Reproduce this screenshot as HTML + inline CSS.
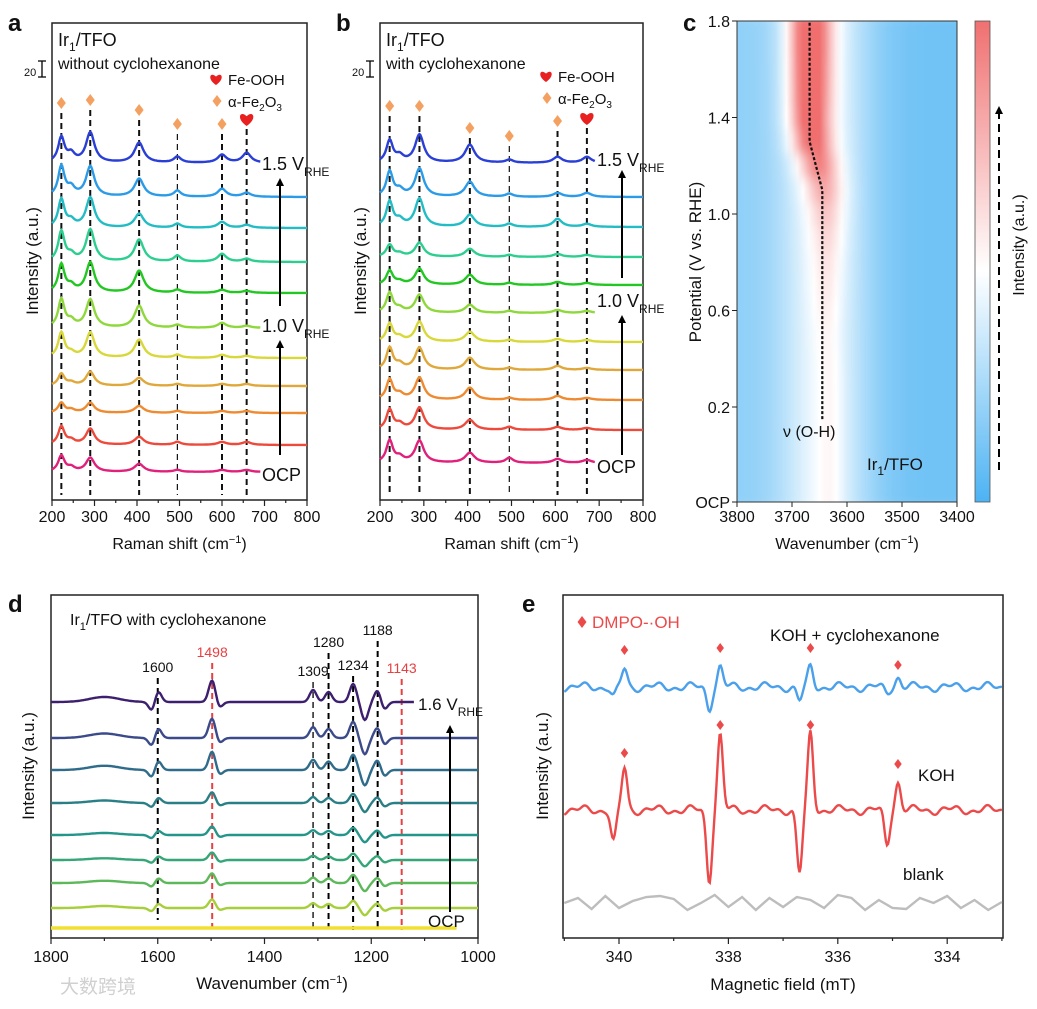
<!DOCTYPE html>
<html><head><meta charset="utf-8"><style>
body{margin:0;background:#fff}
svg{display:block;font-family:"Liberation Sans","Noto Sans CJK SC",sans-serif}
</style></head><body>
<svg id="fig" width="1037" height="1009" viewBox="0 0 1037 1009" xmlns="http://www.w3.org/2000/svg">
<defs id="defs">
<filter id="vblur" x="0" y="0" width="1" height="1"><feGaussianBlur stdDeviation="0 7" edgeMode="duplicate"/></filter>
<clipPath id="hclip"><rect x="737" y="21" width="220" height="481"/></clipPath>
</defs>
<g id="root"></g>
</svg>
<script>
// ---------- DATA ----------
const ramanPeaksA = [222, 245, 290, 405, 495, 600, 658];
const ramanPeaksB = [222, 245, 290, 405, 495, 605, 672];
const ramanWidths = [9, 10, 12, 13, 10, 12, 12];
const ramanColors = ['#2a3fd6','#2b9be8','#22bcc4','#2ccf8f','#22c722','#8fd83c','#d8d83a','#e0a83a','#ee8a30','#ee4a3c','#e0207a'];
const ampA = [[25,8,30,20,6,8,10],[30,8,30,18,6,8,4],[28,6,30,14,4,6,3],[30,6,32,22,6,8,3],[28,6,30,22,3,3,2],[28,6,28,22,3,5,2],[25,4,25,18,3,3,2],[12,3,14,8,2,2,2],[10,3,10,7,2,2,2],[18,4,16,8,3,3,3],[16,4,14,8,2,2,2]];
const baseA = [163,197,228,262,293,328,358,386,413,445,472];
const endA = [690,800,800,800,800,690,800,800,800,800,690];
const ampB = [[22,6,28,18,3,6,6],[25,6,28,15,3,4,4],[25,6,28,12,3,8,3],[12,3,14,8,2,3,2],[14,3,16,10,2,3,2],[20,4,18,8,2,3,2],[18,4,20,10,2,3,2],[22,5,22,12,2,4,2],[20,5,22,12,2,4,2],[20,5,22,10,3,3,2],[22,5,22,10,5,4,3]];
const baseB = [163,197,227,257,285,313,342,370,400,430,463];
const endB = [690,800,800,800,800,690,800,800,800,800,690];

// panel c
const potentials = [-0.2,-0.1,0,0.1,0.2,0.3,0.4,0.5,0.6,0.7,0.8,0.9,1.0,1.1,1.2,1.3,1.4,1.5,1.6,1.7,1.8];
const ohCenter = [3630,3630,3630,3630,3630,3630,3632,3634,3636,3636,3636,3636,3638,3642,3652,3664,3668,3668,3668,3668,3668];
const ohIntensity = [0,0,0,0,0,0,0,0,0.02,0.04,0.06,0.1,0.16,0.26,0.4,0.55,0.62,0.66,0.68,0.7,0.7];
const ohLineP = [0.15,1.1,1.3,1.8];
const ohLineW = [3645,3645,3668,3668];

// panel d
const ftirPeaks = [1700,1610,1600,1498,1485,1309,1280,1234,1212,1188,1176];
const ftirShape = [5,-10,12,22,-6,12,10,18,-18,12,-8];
const ftirColors = ['#3c1f6e','#3a4a8a','#2f6b8a','#2a7f87','#24958a','#35a678','#5cb85a','#a6cf3a','#f0e030'];
const ftirBase = [702,738,770,803,835,860,883,908,928];
const ftirScale = [1,0.9,0.85,0.5,0.4,0.35,0.45,0.4,0];
const ftirEnd = [1120,1000,1000,1000,1000,1000,1000,1000,1040];
const ftirLines = [1600,1498,1309,1280,1234,1188,1143];
const ftirLineColors = ['#000','#e84040','#000','#000','#000','#000','#e84040'];

// panel e
const eprFields = [339.9,338.15,336.5,334.9];
const eprUpKOH = [42,75,77,28];
const eprDownKOH = [32,70,63,35];
const eprUpCyc = [18,20,20,10];
const eprDownCyc = [10,21,14,6];
const eprBase = [687,810];
const blankField = [341,340.75,340.5,340.25,340,339.75,339.5,339.25,339,338.75,338.5,338.25,338,337.75,337.5,337.25,337,336.75,336.5,336.25,336,335.75,335.5,335.25,335,334.75,334.5,334.25,334,333.75,333.5,333.25,333];
const blankVal = [0,5,-6,7,-5,2,6,7,4,-7,0,8,-4,6,-7,5,-4,6,3,-5,8,5,-7,3,-5,-6,5,0,7,-5,3,-7,1];

// ---------- HELPERS ----------
const NS='http://www.w3.org/2000/svg';
const root=document.getElementById('root');
const defs=document.getElementById('defs');
function el(tag,attrs,parent){const e=document.createElementNS(NS,tag);for(const k in attrs)e.setAttribute(k,attrs[k]);(parent||root).appendChild(e);return e;}
function txt(x,y,s,size,opts,parent){opts=opts||{};const t=el('text',{x:x,y:y,'font-size':size,fill:opts.fill||'#111','text-anchor':opts.anchor||'start','font-weight':opts.bold?'bold':'normal'},parent);if(opts.rot)t.setAttribute('transform','rotate(-90 '+x+' '+y+')');t.innerHTML=s;return t;}
function pathD(pts){return pts.map((p,i)=>(i?'L':'M')+p[0].toFixed(1)+' '+p[1].toFixed(1)).join(' ');}
function lor(x,x0,w){return 1/(1+((x-x0)/w)**2);}
function gau(x,x0,w){return Math.exp(-(((x-x0)/w)**2));}
function diamond(x,y,s,c,parent){return el('path',{d:`M${x} ${y-s} L${x+s*0.75} ${y} L${x} ${y+s} L${x-s*0.75} ${y} Z`,fill:c},parent);}
function heart(x,y,s,c,parent){return el('path',{d:`M${x} ${y+s} C${x-s*1.6} ${y-s*0.1} ${x-s*0.9} ${y-s*1.3} ${x} ${y-s*0.4} C${x+s*0.9} ${y-s*1.3} ${x+s*1.6} ${y-s*0.1} ${x} ${y+s} Z`,fill:c},parent);}
function arrow(x,y1,y2,parent,dash){const g=el('g',{},parent);el('line',{x1:x,y1:y1,x2:x,y2:y2+6,stroke:'#000','stroke-width':2,'stroke-dasharray':dash||''},g);el('path',{d:`M${x-4} ${y2+8} L${x} ${y2} L${x+4} ${y2+8} Z`,fill:'#000'},g);return g;}

// ---------- PANEL a/b ----------
function raman(px0,px1,letter,lab2,peaks,amps,bases,ends,opts){
  const g=el('g',{});
  
  
  const top=23,bot=500;
  const X=v=>px0+(v-200)/600*(px1-px0);
  const Y=(b,a)=>b-a;
  el('rect',{x:px0,y:top,width:px1-px0,height:bot-top,fill:'none',stroke:'#222','stroke-width':1.5},g);
  for(let v=200;v<=800;v+=50){const major=v%100===0;el('line',{x1:X(v),y1:bot,x2:X(v),y2:bot+(major?6:3),stroke:'#222','stroke-width':1.2},g);if(major){const t=txt(X(v),522,v,16,{anchor:'middle'},g);}}
  const xt=txt((px0+px1)/2,549,'Raman shift (cm<tspan dy="-6" font-size="11">−1</tspan><tspan dy="6">)</tspan>',16,{anchor:'middle'},g);
  
  const yt=txt(px0-14,261,'Intensity (a.u.)',17,{anchor:'middle',rot:1},g);
  
  const lt=txt(px0-44,31,letter,24,{bold:1},g);
  txt(px0+6,46,'Ir<tspan dy="5" font-size="12">1</tspan><tspan dy="-5">/TFO</tspan>',18,{},g);
  txt(px0+6,69,lab2,16,{},g);
  txt(px0-28,76,'20',11,{},g);
  el('path',{d:`M${px0-10} 61 L${px0-10} 77 M${px0-14} 61 L${px0-6} 61 M${px0-14} 77 L${px0-6} 77`,stroke:'#000','stroke-width':1.3,fill:'none'},g);
  heart(opts.lx,opts.ly,6,'#e82020',g);txt(opts.lx+12,opts.ly+6,'Fe-OOH',15,{},g);
  diamond(opts.lx+1,opts.ly+22,6,'#f4a060',g);txt(opts.lx+12,opts.ly+28,'α-Fe<tspan dy="4" font-size="10">2</tspan><tspan dy="-4">O</tspan><tspan dy="4" font-size="10">3</tspan>',15,{},g);
  const mi=[0,2,3,4,5,6];
  mi.forEach((pi,k)=>{const x=X(peaks[pi]);el('line',{x1:x,y1:opts.my[k]+10,x2:x,y2:bot-5,stroke:'#111','stroke-width':(k===3?1.2:2),'stroke-dasharray':'6 4'},g);
    if(k<5)diamond(x,opts.my[k],6,'#f4a060',g);else heart(x,opts.my[k],7,'#e82020',g);});
  amps.forEach((a,i)=>{const pts=[];for(let v=200;v<=ends[i];v+=2){let s=0;peaks.forEach((p,j)=>{s+=a[j]*lor(v,p,ramanWidths[j]);});pts.push([X(v),Y(bases[i],s)]);}
    const p=el('path',{d:pathD(pts),fill:'none',stroke:ramanColors[i],'stroke-width':2.4},g);
    
    });
  const V=(x,y,s)=>txt(x,y,s+' V<tspan dy="6" font-size="12">RHE</tspan>',18,{},g);
  V(opts.vx,opts.v15,'1.5');V(opts.vx,opts.v10,'1.0');txt(opts.vx,opts.ocp,'OCP',18,{},g);
  arrow(opts.ax,opts.a1[0],opts.a1[1],g);arrow(opts.ax,opts.a2[0],opts.a2[1],g);
}
raman(52,307,'a','without cyclohexanone',ramanPeaksA,ampA,baseA,endA,{lx:216,ly:79,my:[103,100,110,124,124,119],vx:262,v15:170,v10:332,ocp:481,ax:280,a1:[306,178],a2:[455,340]});
raman(380,643,'b','with cyclohexanone',ramanPeaksB,ampB,baseB,endB,{lx:546,ly:76,my:[106,106,128,136,121,118],vx:597,v15:166,v10:307,ocp:473,ax:622,a1:[278,170],a2:[455,315]});

// ---------- PANEL c ----------
(function(){
  const g=el('g',{});
  const x0=737,x1=957;
  const X=w=>x0+(3800-w)/400*(x1-x0);
  const Y=p=>p<0?502-( (p+0.2)/0.2)*95:407-(p-0.2)*241.25;
  function col(v){
    const b=[77,179,243],w=[255,255,255],r=[240,110,110];let c;
    if(v<0.5){const t=v/0.5;c=b.map((q,i)=>q+(w[i]-q)*t);}else{const t=Math.min(1,(v-0.5)/0.5);c=w.map((q,i)=>q+(r[i]-q)*t);}
    return 'rgb('+c.map(Math.round).join(',')+')';}
  const hg=el('g',{'clip-path':'url(#hclip)'},g);
  const hb=el('g',{filter:'url(#vblur)'},hg);
  potentials.forEach((p,i)=>{
    const id='hg'+i;const lg=el('linearGradient',{id:id,x1:'0',x2:'1',y1:'0',y2:'0'},defs);
    for(let k=0;k<=40;k++){const w=3800-k*10;const c=ohCenter[i];
      let v=0.1+0.08*Math.max(0,(w-3600)/200)+0.34*gau(w,3640,85)+0.08*gau(w,c,25)+ohIntensity[i]*gau(w,c,38);
      el('stop',{offset:(k/40).toFixed(3),'stop-color':col(v)},lg);}
    const ya=i===potentials.length-1?Y(p)-10:Y(p+0.05),yb=i===0?Y(p)+10:Y(p-0.05);
    const r=el('rect',{x:x0,y:Math.min(ya,yb),width:x1-x0,height:Math.abs(yb-ya)+0.6,fill:'url(#'+id+')'},hb);
    
    
  });
  el('rect',{x:x0,y:21,width:x1-x0,height:481,fill:'none',stroke:'#333','stroke-width':1},g);
  el('path',{d:pathD(ohLineP.map((p,i)=>[X(ohLineW[i]),Y(p)])),fill:'none',stroke:'#111','stroke-width':2.2,'stroke-dasharray':'3 2'},g);
  [3800,3700,3600,3500,3400].forEach(v=>{el('line',{x1:X(v),y1:502,x2:X(v),y2:507,stroke:'#222'},g);const t=txt(X(v),522,v,16,{anchor:'middle'},g);});
  [[1.8,'1.8'],[1.4,'1.4'],[1.0,'1.0'],[0.6,'0.6'],[0.2,'0.2'],[-0.2,'OCP']].forEach(([p,s])=>{el('line',{x1:x0-5,y1:Y(p),x2:x0,y2:Y(p),stroke:'#222'},g);const t=txt(x0-7,Y(p)+6,s,16,{anchor:'end'},g);});
  txt(683,31,'c',24,{bold:1},g);
  const yt=txt(701,262,'Potential (V vs. RHE)',17,{anchor:'middle',rot:1},g);
  const xt=txt(847,549,'Wavenumber (cm<tspan dy="-6" font-size="11">−1</tspan><tspan dy="6">)</tspan>',16,{anchor:'middle'},g);
  txt(783,437,'ν (O-H)',16,{},g);
  txt(867,470,'Ir<tspan dy="5" font-size="12">1</tspan><tspan dy="-5">/TFO</tspan>',17,{},g);
  const cg=el('linearGradient',{id:'cbar',x1:'0',x2:'0',y1:'0',y2:'1'},defs);
  el('stop',{offset:'0','stop-color':'#f07070'},cg);el('stop',{offset:'0.52','stop-color':'#ffffff'},cg);el('stop',{offset:'1','stop-color':'#4db3f3'},cg);
  const cb=el('rect',{x:975,y:21,width:15,height:481,fill:'url(#cbar)',stroke:'#555','stroke-width':0.8},g);
  
  arrow(999,470,106,g,'8 5');
  txt(1024,245,'Intensity (a.u.)',16,{anchor:'middle',rot:1},g);
})();

// ---------- PANEL d ----------
(function(){
  const g=el('g',{});
  const x0=51,x1=478,top=595,bot=938;
  const X=v=>x0+(1800-v)/800*(x1-x0);
  el('rect',{x:x0,y:top,width:x1-x0,height:bot-top,fill:'none',stroke:'#222','stroke-width':1.5},g);
  for(let v=1800;v>=1000;v-=100){const major=v%200===0;el('line',{x1:X(v),y1:bot,x2:X(v),y2:bot+(major?6:3),stroke:'#222','stroke-width':1.2},g);if(major){const t=txt(X(v),962,v,16,{anchor:'middle'},g);}}
  const xt=txt(272,989,'Wavenumber (cm<tspan dy="-6" font-size="11">−1</tspan><tspan dy="6">)</tspan>',17,{anchor:'middle'},g);
  const yt=txt(34,766,'Intensity (a.u.)',17,{anchor:'middle',rot:1},g);
  txt(8,612,'d',24,{bold:1},g);
  txt(70,625,'Ir<tspan dy="5" font-size="11">1</tspan><tspan dy="-5">/TFO with cyclohexanone</tspan>',16,{},g);
  const labY=[672,657,676,647,670,635,673];
  ftirLines.forEach((v,i)=>{el('line',{x1:X(v),y1:labY[i]+6,x2:X(v),y2:i===0?920:930,stroke:ftirLineColors[i],'stroke-width':(i===2?1.3:2),'stroke-dasharray':'6 4'},g);
    txt(X(v),labY[i],v,14,{anchor:'middle',fill:ftirLineColors[i]==='#000'?'#111':'#e84040'},g);});
  ftirScale.forEach((s,i)=>{const pts=[];for(let v=1800;v>=ftirEnd[i];v-=2){let y=0;ftirPeaks.forEach((p,j)=>{y+=ftirShape[j]*gau(v,p,j===0?40:9);});pts.push([X(v),ftirBase[i]-s*y]);}
    const p=el('path',{d:pathD(pts),fill:'none',stroke:ftirColors[i],'stroke-width':i===8?3.5:2.4},g);
    
    });
  txt(418,710,'1.6 V<tspan dy="6" font-size="12">RHE</tspan>',17,{},g);
  txt(428,927,'OCP',17,{},g);
  arrow(450,912,725,g);
})();

// ---------- PANEL e ----------
(function(){
  const g=el('g',{});
  const x0=563,x1=1003,top=595,bot=938;
  const X=f=>619+(340-f)*54.7;
  el('rect',{x:x0,y:top,width:x1-x0,height:bot-top,fill:'none',stroke:'#222','stroke-width':1.5},g);
  for(let f=341;f>=333;f--){const major=f%2===0;el('line',{x1:X(f),y1:bot,x2:X(f),y2:bot+(major?6:3),stroke:'#222','stroke-width':1.2},g);if(major){const t=txt(X(f),962,f,16,{anchor:'middle'},g);}}
  const xt=txt(783,990,'Magnetic field (mT)',17,{anchor:'middle'},g);
  const yt=txt(548,766,'Intensity (a.u.)',17,{anchor:'middle',rot:1},g);
  txt(522,612,'e',24,{bold:1},g);
  diamond(582,622,6,'#ec4a4a',g);
  const lg=txt(592,628,'DMPO-·OH',17,{fill:'#ec4a4a'},g);
  txt(770,641,'KOH + cyclohexanone',17,{},g);
  txt(918,781,'KOH',17,{},g);
  txt(903,880,'blank',17,{},g);
  function epr(up,down,base,color,name,mY){
    const pts=[];for(let f=341;f>=333;f-=0.02){let y=0;eprFields.forEach((c,j)=>{y+=up[j]*gau(f,c,0.07)-down[j]*gau(f,c+0.2,0.07);});y+=3*Math.sin(f*9.3)+2*Math.sin(f*23.1);pts.push([X(f),base-y]);}
    const p=el('path',{d:pathD(pts),fill:'none',stroke:color,'stroke-width':2.4},g);
    
    
    eprFields.forEach((c,j)=>diamond(X(c),mY[j],5,'#ec4a4a',g));
  }
  epr(eprUpCyc,eprDownCyc,eprBase[0],'#4aa0ea','epr-trace-koh-cyclohexanone',[650,648,648,665]);
  epr(eprUpKOH,eprDownKOH,eprBase[1],'#ec4a4a','epr-trace-koh',[753,725,725,764]);
  const bp=el('path',{d:pathD(blankField.map((f,i)=>[X(f),903-blankVal[i]])),fill:'none',stroke:'#bdbdbd','stroke-width':2.4},g);
  
  
})();

const wm=txt(60,993,'大数跨境',19,{fill:'#d0d0d0'});


</script>
</body></html>
